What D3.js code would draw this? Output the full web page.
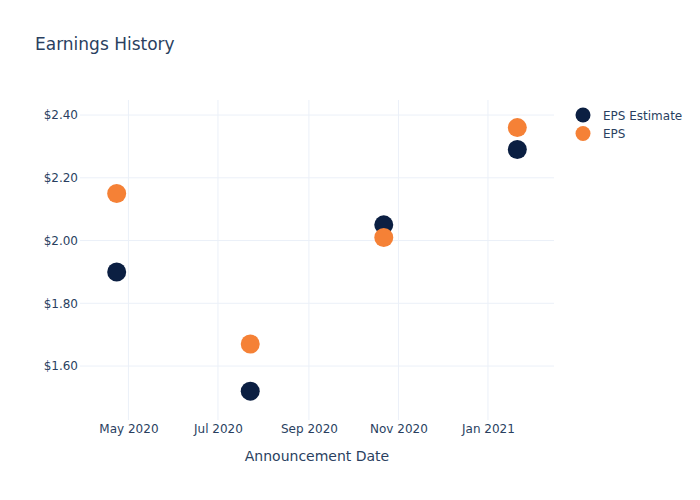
<!DOCTYPE html>
<html><head><meta charset="utf-8">
<script src="https://cdn.jsdelivr.net/npm/d3@7"></script>
<style>body{margin:0;background:#fff;}svg{display:block;}</style>
</head><body>
<script>
const dates = ["2020-04-23", "2020-07-23", "2020-10-22", "2021-01-21"];
const epsEstimate = [1.90, 1.52, 2.05, 2.29];
const eps = [2.15, 1.67, 2.01, 2.36];
const yTicks = [1.60, 1.80, 2.00, 2.20, 2.40];
const xTicks = ["2020-05-01", "2020-07-01", "2020-09-01", "2020-11-01", "2021-01-01"];
const seriesNames = ["EPS Estimate", "EPS"];
const seriesColors = ["#0b1f42", "#f58136"];

const W = 700, H = 500;
const m = {l: 80, r: 146, t: 100, b: 80};
const font = "'DejaVu Sans', 'Open Sans', sans-serif";
const txt = "#2a3f5f";
const parse = d3.timeParse("%Y-%m-%d");

const svg = d3.select("body").append("svg").attr("width", W).attr("height", H)
  .style("font-family", font);

const x = d3.scaleTime().domain([parse("2020-03-29"), parse("2021-02-15")]).range([m.l, W - m.r]);
const y = d3.scaleLinear().domain([1.428, 2.448]).range([H - m.b, m.t]);

// grid
const g = svg.append("g");
g.selectAll(".gx").data(xTicks).join("line")
  .attr("x1", d => x(parse(d))).attr("x2", d => x(parse(d)))
  .attr("y1", m.t).attr("y2", H - m.b).attr("stroke", "#ebf0f8").attr("stroke-width", 1);
g.selectAll(".gy").data(yTicks).join("line")
  .attr("y1", d => y(d)).attr("y2", d => y(d))
  .attr("x1", m.l).attr("x2", W - m.r).attr("stroke", "#ebf0f8").attr("stroke-width", 1);

// axes
const xAxis = d3.axisBottom(x).tickValues(xTicks.map(parse)).tickFormat(d3.timeFormat("%b %Y")).tickSize(0).tickPadding(4);
const xa = svg.append("g").attr("transform", `translate(0,${H - m.b})`).call(xAxis);
xa.select(".domain").remove();
xa.selectAll("text").attr("fill", txt).style("font-size", "12px").style("font-family", font);

const yAxis = d3.axisLeft(y).tickValues(yTicks).tickFormat(d => "$" + d3.format(".2f")(d)).tickSize(0).tickPadding(2);
const ya = svg.append("g").attr("transform", `translate(${m.l},0)`).call(yAxis);
ya.select(".domain").remove();
ya.selectAll("text").attr("fill", txt).style("font-size", "12px").style("font-family", font);

// titles
svg.append("text").attr("x", 35).attr("y", 50).attr("fill", txt)
  .style("font-size", "17px").text("Earnings History");
svg.append("text").attr("x", (m.l + W - m.r) / 2).attr("y", 461).attr("text-anchor", "middle")
  .attr("fill", txt).style("font-size", "14px").text("Announcement Date");

// points
const series = [epsEstimate, eps];
series.forEach((vals, i) => {
  svg.append("g").selectAll("circle").data(vals).join("circle")
    .attr("cx", (d, j) => x(parse(dates[j]))).attr("cy", d => y(d)).attr("r", 9.5)
    .attr("fill", seriesColors[i]);
});

// legend
const lg = svg.append("g");
seriesNames.forEach((n, i) => {
  const yy = 115 + i * 18.5;
  lg.append("circle").attr("cx", 583).attr("cy", yy).attr("r", 7.5).attr("fill", seriesColors[i]);
  lg.append("text").attr("x", 603).attr("y", yy + 4.5).attr("fill", txt).style("font-size", "12px").text(n);
});
</script>
</body></html>
